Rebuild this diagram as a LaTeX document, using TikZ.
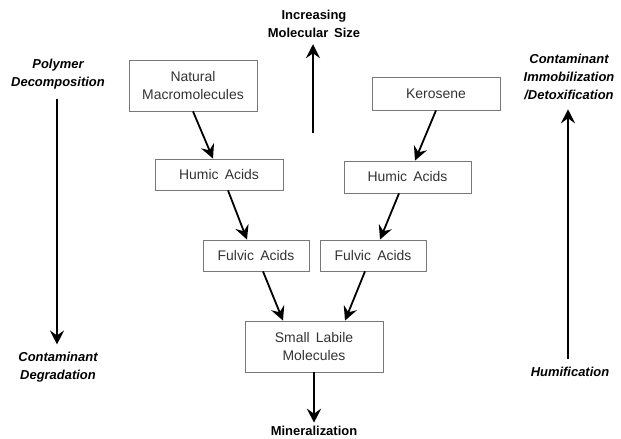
\documentclass[tikz,border=0pt]{standalone}
\usepackage{fontspec}
\setmainfont{Liberation Sans}
\usepackage{xcolor}
\usepackage{tikz}
\usetikzlibrary{positioning, arrows.meta}
\definecolor{boxgray}{RGB}{120,120,120}
\definecolor{textgray}{RGB}{50,50,50}

\begin{document}
\begin{tikzpicture}[x=1bp, y=-1bp,
    every node/.style={font=\fontsize{13}{18}\selectfont, align=center},
    box/.style={draw=boxgray, line width=0.8bp, text=textgray, inner sep=0pt,
        font=\fontsize{14}{19}\selectfont},
    flow/.style={line width=1.8bp, -{Stealth[length=14bp, width=14bp, inset=5bp]}},
    axis/.style={font=\fontsize{13}{18}\selectfont\bfseries\itshape},
    heading/.style={font=\fontsize{13}{18}\selectfont\bfseries}]
\useasboundingbox (0,0) rectangle (621,439);

% boxes of the two chains
\node[box, minimum width=128bp, minimum height=51bp] (nat) at (193,85.5) {Natural\\Macromolecules};
\node[box, minimum width=128bp, minimum height=31bp] (humL) at (219,174.5) {Humic\, Acids};
\node[box, minimum width=106bp, minimum height=31bp] (fulL) at (256,255.5) {Fulvic\, Acids};
\node[box, minimum width=128bp, minimum height=33bp] (kero) at (436,93.5) {Kerosene};
\node[box, minimum width=127bp, minimum height=32bp] (humR) at (407.5,177) {Humic\, Acids};
\node[box, minimum width=106bp, minimum height=31bp] (fulR) at (373,255.5) {Fulvic\, Acids};
\node[box, minimum width=138bp, minimum height=51bp] (small) at (314,346.5) {Small\, Labile\\Molecules};

% headings
\node[heading] (size) at (314,24) {Increasing\\Molecular\, Size};
\node[heading] (mineral) at (314,431) {Mineralization};
\coordinate (sizetail) at (313,133);

% side labels
\node[axis] (poly) at (58,74) {Polymer\\Decomposition};
\node[axis] (degr) at (58,367) {Contaminant\\Degradation};
\node[axis] (immo) at (569,77) {Contaminant\\Immobilization\\/Detoxification};
\node[axis] (humi) at (570,372) {Humification};

% flows
\draw[flow] (nat.south) -- ([xshift=-6bp]humL.north);
\draw[flow] ([xshift=9bp]humL.south) -- ([xshift=-9bp]fulL.north);
\draw[flow] ([xshift=7bp]fulL.south) -- ([xshift=-31bp]small.north);
\draw[flow] (kero.south) -- ([xshift=7.5bp]humR.north);
\draw[flow] ([xshift=-8.5bp]humR.south) -- ([xshift=7bp]fulR.north);
\draw[flow] ([xshift=-8bp]fulR.south) -- ([xshift=31bp]small.north);
\draw[flow] (small.south) -- (mineral.north);
\draw[flow, shorten >=3bp] (sizetail) -- (size.south -| sizetail);
\draw[flow, shorten <=6bp, shorten >=4bp] (poly.south -| 57,0) -- (degr.north -| 57,0);
\draw[flow, shorten <=5bp, shorten >=6bp] (humi.north -| 568,0) -- (immo.south -| 568,0);

\end{tikzpicture}
\end{document}
